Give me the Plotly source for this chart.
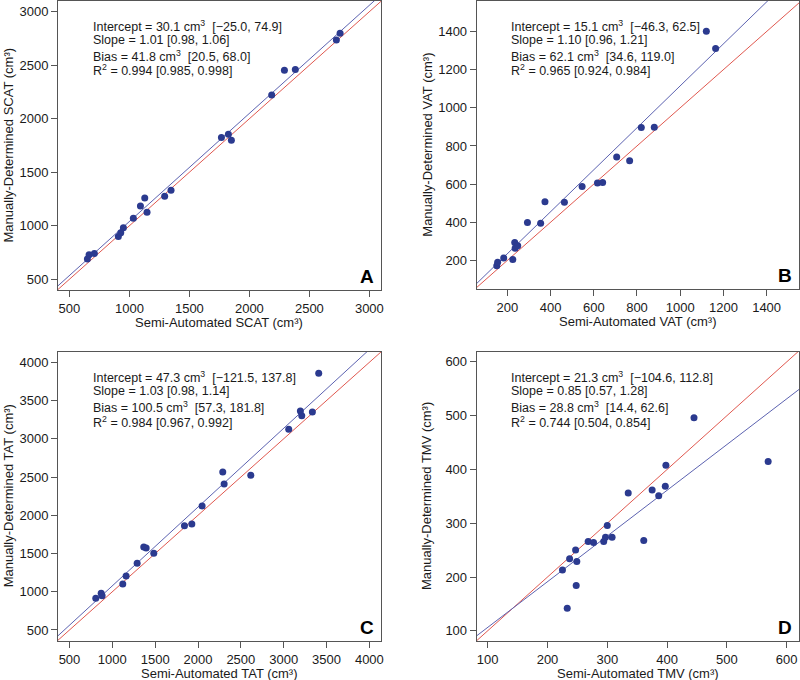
import plotly.graph_objects as go

# ---------------- data ----------------
scat_semi = [650, 664, 708, 908, 928, 950, 1033, 1092, 1128, 1147, 1294, 1347,
             1767, 1825, 1850, 2186, 2292, 2383, 2725, 2756]
scat_man = [689, 729, 742, 900, 934, 981, 1071, 1185, 1260, 1126, 1275, 1331,
            1824, 1855, 1799, 2221, 2453, 2460, 2736, 2798]

vat_semi = [151, 155, 183, 225, 234, 236, 248, 293, 354, 374, 464, 546,
            617, 641, 706, 766, 820, 880, 1121, 1164]
vat_man = [172, 190, 212, 205, 294, 263, 277, 399, 395, 507, 505, 587,
           606, 609, 742, 723, 897, 898, 1402, 1311]

tat_semi = [807, 870, 881, 1122, 1161, 1290, 1367, 1395, 1484, 1842, 1928, 2048,
            2289, 2305, 2616, 3059, 3195, 3211, 3335, 3409]
tat_man = [914, 980, 949, 1102, 1206, 1372, 1586, 1572, 1503, 1864, 1886, 2122,
           2566, 2409, 2523, 3124, 3364, 3303, 3351, 3856]

tmv_semi = [225, 233, 237, 247, 248, 249, 268, 277, 294, 297, 300, 308,
            335, 361, 375, 386, 397, 398, 445, 569]
tmv_man = [213, 142, 234, 250, 184, 229, 266, 264, 266, 274, 296, 274,
           356, 268, 362, 351, 369, 408, 496, 415]

names = ["SCAT", "VAT", "TAT", "TMV"]
letters = ["A", "B", "C", "D"]
intercepts = [30.1, 15.1, 47.3, 21.3]
slopes = [1.01, 1.10, 1.03, 0.85]
stat_lines = [
    ["Intercept = 30.1 cm<sup>3</sup>\u00a0 [\u221225.0, 74.9]",
     "Slope = 1.01 [0.98, 1.06]",
     "Bias = 41.8 cm<sup>3</sup>\u00a0 [20.5, 68.0]",
     "R<sup>2</sup> = 0.994 [0.985, 0.998]"],
    ["Intercept = 15.1 cm<sup>3</sup>\u00a0 [\u221246.3, 62.5]",
     "Slope = 1.10 [0.96, 1.21]",
     "Bias = 62.1 cm<sup>3</sup>\u00a0 [34.6, 119.0]",
     "R<sup>2</sup> = 0.965 [0.924, 0.984]"],
    ["Intercept = 47.3 cm<sup>3</sup>\u00a0 [\u2212121.5, 137.8]",
     "Slope = 1.03 [0.98, 1.14]",
     "Bias = 100.5 cm<sup>3</sup>\u00a0 [57.3, 181.8]",
     "R<sup>2</sup> = 0.984 [0.967, 0.992]"],
    ["Intercept = 21.3 cm<sup>3</sup>\u00a0 [\u2212104.6, 112.8]",
     "Slope = 0.85 [0.57, 1.28]",
     "Bias = 28.8 cm<sup>3</sup>\u00a0 [14.4, 62.6]",
     "R<sup>2</sup> = 0.744 [0.504, 0.854]"],
]
xs = [scat_semi, vat_semi, tat_semi, tmv_semi]
ys = [scat_man, vat_man, tat_man, tmv_man]

tickvals = [
    [500, 1000, 1500, 2000, 2500, 3000],
    [200, 400, 600, 800, 1000, 1200, 1400],
    [500, 1000, 1500, 2000, 2500, 3000, 3500, 4000],
    [100, 200, 300, 400, 500, 600],
]
ytickvals = [
    [500, 1000, 1500, 2000, 2500, 3000],
    [200, 400, 600, 800, 1000, 1200, 1400],
    [500, 1000, 1500, 2000, 2500, 3000, 3500, 4000],
    [100, 200, 300, 400, 500, 600],
]
xranges = [[405, 3097], [58, 1550], [366, 4136], [81.6, 620.6]]
yranges = [[400, 3100], [50, 1560], [356, 4139], [81, 619]]

# ---------------- layout (pixels) ----------------
W, H = 800, 680
# plot boxes: (left, right, top, bottom) in px
boxes = [(58, 381, 1, 290), (476.7, 799, 1, 289),
         (58, 381, 351.7, 641), (476.7, 799, 351.7, 641)]

FONT = "Liberation Sans, Arial, Helvetica, sans-serif"
TXT = "#1a1a1a"
AX = "#555555"
PT = "#2b3a8f"
BLUE = "#5c62b0"
RED = "#e0584f"

fig = go.Figure()
annotations = []

for i in range(4):
    xa = "x" if i == 0 else f"x{i+1}"
    ya = "y" if i == 0 else f"y{i+1}"
    l, r, t, b = boxes[i]
    x0, x1 = xranges[i]
    # identity line
    fig.add_trace(go.Scatter(x=[x0, x1], y=[x0, x1], mode="lines",
                             line=dict(color=RED, width=1), xaxis=xa, yaxis=ya,
                             showlegend=False, hoverinfo="skip"))
    # regression line
    fig.add_trace(go.Scatter(x=[x0, x1],
                             y=[intercepts[i] + slopes[i] * x0, intercepts[i] + slopes[i] * x1],
                             mode="lines", line=dict(color=BLUE, width=1),
                             xaxis=xa, yaxis=ya, showlegend=False, hoverinfo="skip"))
    fig.add_trace(go.Scatter(x=xs[i], y=ys[i], mode="markers",
                             marker=dict(color=PT, size=7, line=dict(width=0)),
                             xaxis=xa, yaxis=ya, showlegend=False))

    axcommon = dict(showgrid=False, zeroline=False, showline=True, mirror=True,
                    linecolor=AX, linewidth=1, ticks="outside", ticklen=6,
                    tickcolor=AX, tickwidth=1,
                    tickfont=dict(family=FONT, size=13, color=TXT),
                    automargin=False)
    fig.update_layout(**{
        ("xaxis" if i == 0 else f"xaxis{i+1}"): dict(
            domain=[l / W, r / W], range=xranges[i], tickvals=tickvals[i],
            anchor=ya, **axcommon),
        ("yaxis" if i == 0 else f"yaxis{i+1}"): dict(
            domain=[1 - b / H, 1 - t / H], range=yranges[i], tickvals=ytickvals[i],
            anchor=xa, **axcommon),
    })

    # axis titles
    annotations.append(dict(text=f"Semi-Automated {names[i]} (cm³)",
                            x=(l + r) / 2 / W, y=1 - (b + 32) / H,
                            xref="paper", yref="paper", showarrow=False,
                            xanchor="center", yanchor="middle",
                            font=dict(family=FONT, size=13, color=TXT)))
    annotations.append(dict(text=f"Manually-Determined {names[i]} (cm³)",
                            x=(l - 50) / W, y=1 - (t + b) / 2 / H,
                            xref="paper", yref="paper", showarrow=False,
                            xanchor="center", yanchor="middle", textangle=-90,
                            font=dict(family=FONT, size=13, color=TXT)))
    # stats text
    offs = [26, 39.5, 55.5, 70.5]
    for k, line in enumerate(stat_lines[i]):
        annotations.append(dict(text=line, x=(l + 32.5) / W,
                                y=1 - (t - 1 + offs[k] + (0 if i < 2 else 0.5)) / H,
                                xref="paper", yref="paper", showarrow=False,
                                xanchor="left", yanchor="middle",
                                font=dict(family=FONT, size=12.5, color=TXT)))
    # panel letter
    annotations.append(dict(text=f"<b>{letters[i]}</b>", x=(r - 14.5) / W,
                            y=1 - (b - 14) / H, xref="paper", yref="paper",
                            showarrow=False, xanchor="center", yanchor="middle",
                            font=dict(family=FONT, size=19, color="#000000")))

fig.update_layout(width=W, height=H, margin=dict(l=0, r=0, t=0, b=0),
                  paper_bgcolor="white", plot_bgcolor="white",
                  annotations=annotations, showlegend=False)

fig.write_html("out.html", config={"displayModeBar": False},
               post_script="document.body.style.margin='0';"
                           "document.body.style.padding='0';"
                           "document.body.style.overflow='hidden';")
